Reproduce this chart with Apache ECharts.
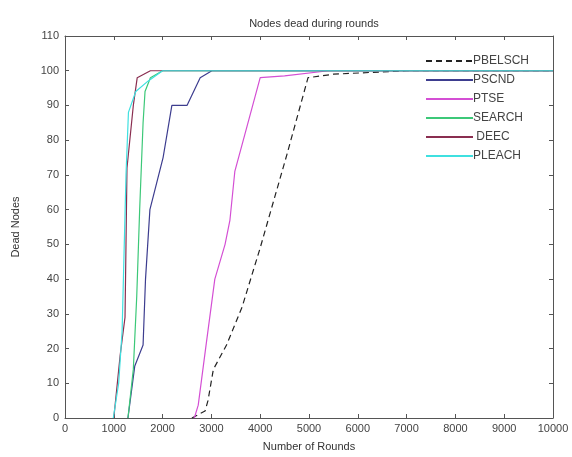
<!DOCTYPE html>
<html>
<head>
<meta charset="utf-8">
<script src="https://cdn.jsdelivr.net/npm/echarts@6/dist/echarts.min.js"></script>
<style>html,body{margin:0;padding:0;background:#fff}#c{width:572px;height:457px}</style>
</head>
<body>
<div id="c"></div>
<script>
const seriesNames = ['PBELSCH', 'PSCND', 'PTSE', 'SEARCH', ' DEEC', 'PLEACH'];

const pbelschX = [2600, 2870, 2930, 3040, 3310, 3630, 4000, 4550, 4980, 5500, 7000, 10000];
const pbelschY = [0, 2, 5, 14, 21, 32, 49, 76, 98, 99, 100, 100];

const pscndX = [1290, 1430, 1600, 1650, 1740, 2010, 2190, 2500, 2770, 3010, 10000];
const pscndY = [0, 15, 21, 40, 60, 75, 90, 90, 98, 100, 100];

const ptseX = [2650, 2730, 2900, 3070, 3280, 3380, 3480, 3730, 4000, 4500, 5400, 10000];
const ptseY = [0, 3.7, 22, 40, 50, 57, 71, 84, 98, 98.5, 100, 100];

const searchX = [1290, 1400, 1470, 1530, 1600, 1640, 1750, 2000, 10000];
const searchY = [0, 14, 35, 60, 85, 94, 98, 100, 100];

const deecX = [1000, 1130, 1230, 1250, 1270, 1400, 1480, 1750, 10000];
const deecY = [0, 18, 29, 50, 72, 90, 98, 100, 100];

const pleachX = [990, 1100, 1170, 1250, 1300, 1450, 1700, 2000, 10000];
const pleachY = [0, 10, 25, 70, 88, 94, 97, 100, 100];

const xTicks = [0, 1000, 2000, 3000, 4000, 5000, 6000, 7000, 8000, 9000, 10000];
const yTicks = [0, 10, 20, 30, 40, 50, 60, 70, 80, 90, 100, 110];

const colors = ['#222222', '#3d3d8f', '#d44fd4', '#3cc878', '#8a2e50', '#3fe0e0'];

function zip(xs, ys) { return xs.map((x, i) => [x, ys[i]]); }
const allData = [zip(pbelschX, pbelschY), zip(pscndX, pscndY), zip(ptseX, ptseY),
                 zip(searchX, searchY), zip(deecX, deecY), zip(pleachX, pleachY)];

const font = 'Liberation Sans, Arial, sans-serif';
const axisCol = '#555';

const chart = echarts.init(document.getElementById('c'), null, {renderer: 'canvas'});
chart.setOption({
  animation: false,
  backgroundColor: '#fff',
  title: {
    text: 'Nodes dead during rounds',
    left: 309, top: 13, textAlign: 'center',
    textStyle: {fontFamily: font, fontSize: 11, fontWeight: 'normal', color: '#333'}
  },
  grid: {left: 65, right: 19, top: 36, bottom: 37, show: false},
  legend: {
    orient: 'vertical', left: 420, top: 50,
    itemWidth: 47, itemHeight: 14, itemGap: 7,
    data: seriesNames,
    itemStyle: {opacity: 0},
    textStyle: {fontFamily: font, fontSize: 12, color: '#444', padding: [0, 0, 0, -5]},
    backgroundColor: 'rgba(0,0,0,0)'
  },
  xAxis: [{
    type: 'value', min: 0, max: 10000, interval: 1000, position: 'bottom',
    name: 'Number of Rounds', nameLocation: 'middle', nameGap: 23,
    nameTextStyle: {fontFamily: font, fontSize: 11, color: '#333'},
    axisLine: {show: true, onZero: false, lineStyle: {color: axisCol, width: 1}},
    axisTick: {show: true, inside: true, length: 4, lineStyle: {color: axisCol}},
    axisLabel: {fontFamily: font, fontSize: 11, color: '#444', margin: 5,
      formatter: v => xTicks.includes(v) ? String(v) : ''},
    splitLine: {show: false}
  }, {
    type: 'value', min: 0, max: 10000, interval: 1000, position: 'top',
    axisLine: {show: true, onZero: false, lineStyle: {color: axisCol, width: 1}},
    axisTick: {show: true, inside: true, length: 4, lineStyle: {color: axisCol}},
    axisLabel: {show: false}, splitLine: {show: false}
  }],
  yAxis: [{
    type: 'value', min: 0, max: 110, interval: 10, position: 'left',
    name: 'Dead Nodes', nameLocation: 'middle', nameGap: 44,
    nameTextStyle: {fontFamily: font, fontSize: 11, color: '#333'},
    axisLine: {show: true, onZero: false, lineStyle: {color: axisCol, width: 1}},
    axisTick: {show: true, inside: true, length: 4, lineStyle: {color: axisCol}},
    axisLabel: {fontFamily: font, fontSize: 11, color: '#444', margin: 6,
      formatter: v => yTicks.includes(v) ? String(v) : ''},
    splitLine: {show: false}
  }, {
    type: 'value', min: 0, max: 110, interval: 10, position: 'right',
    axisLine: {show: true, onZero: false, lineStyle: {color: axisCol, width: 1}},
    axisTick: {show: true, inside: true, length: 4, lineStyle: {color: axisCol}},
    axisLabel: {show: false}, splitLine: {show: false}
  }],
  series: seriesNames.map((n, i) => ({
    name: n, type: 'line', data: allData[i],
    xAxisIndex: 0, yAxisIndex: 0,
    symbol: 'none', showSymbol: false,
    lineStyle: {color: colors[i], width: 1.2, type: i === 0 ? [6, 4] : 'solid'},
    itemStyle: {color: colors[i]},
    z: 2 + i
  }))
});
</script>
</body>
</html>
